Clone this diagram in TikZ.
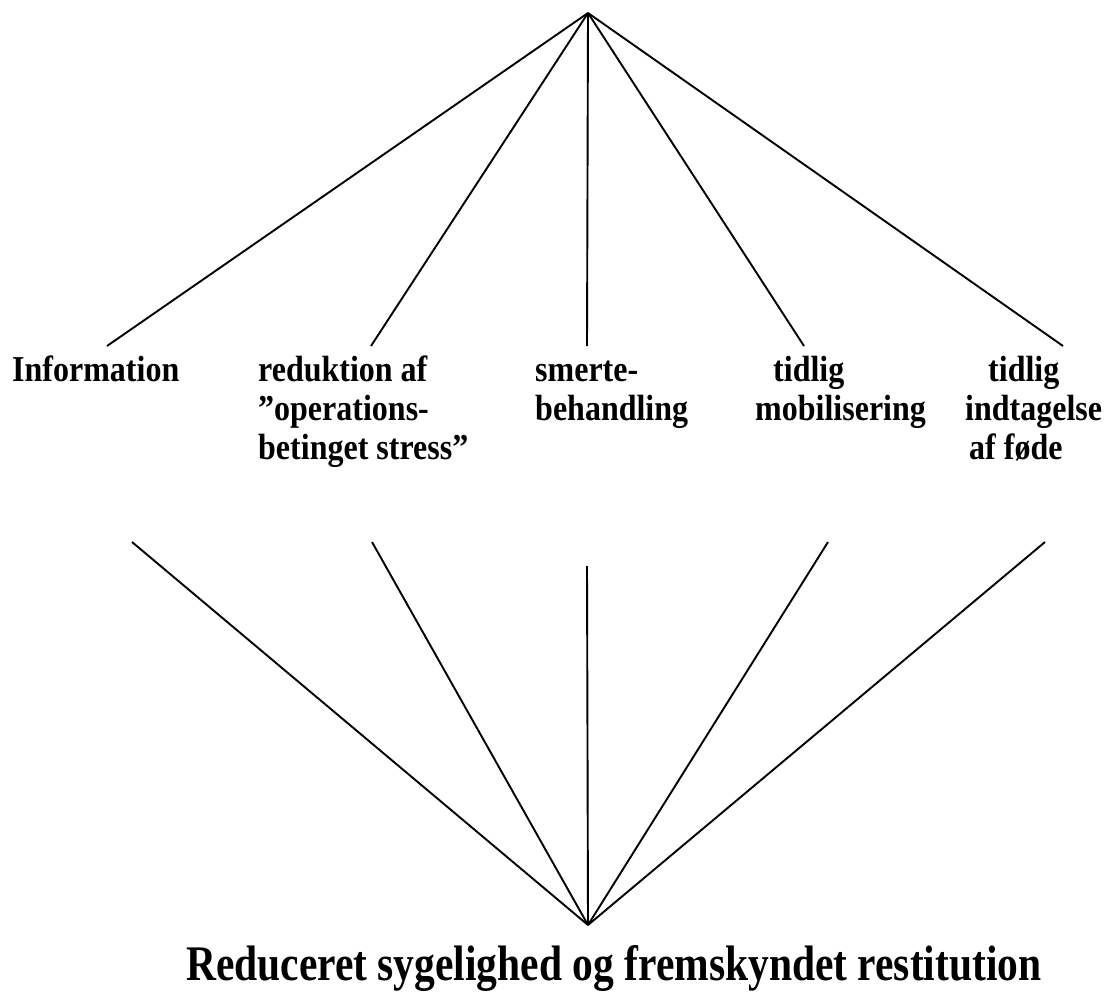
\documentclass[tikz,border=0pt]{standalone}
\usepackage{fontspec}
\usepackage{graphicx}
\setmainfont{Liberation Serif}
\tikzset{
  conn/.style={line width=1.9pt, black},
  lbl/.style={anchor=base west, inner sep=0pt, font=\fontsize{32}{34.5}\selectfont\bfseries},
  ttl/.style={anchor=base west, inner sep=0pt, font=\fontsize{41.5}{46}\selectfont\bfseries}
}
\newcommand{\lblbox}[1]{\scalebox{1}[1.14]{\begin{tabular}[t]{@{}l@{}}#1\end{tabular}}}
\begin{document}
\begin{tikzpicture}[x=1pt,y=-1pt]
\useasboundingbox[fill=white] (0,0) rectangle (1110,1001);
% apexes
\coordinate (top) at (588,13);
\coordinate (bot) at (588,925);
% upper line ends
\coordinate (u1) at (107,346);
\coordinate (u2) at (371,346);
\coordinate (u3) at (587,346);
\coordinate (u4) at (804,346);
\coordinate (u5) at (1063,346);
% lower line starts
\coordinate (d1) at (132,542);
\coordinate (d2) at (372,542);
\coordinate (d3) at (587,566);
\coordinate (d4) at (828,542);
\coordinate (d5) at (1045,542);
% labels
\node[lbl] (l1) at (12,381) {\lblbox{Information}};
\node[lbl] (l2) at (258,381) {\lblbox{reduktion af\\''operations-\\betinget stress''}};
\node[lbl] (l3) at (535,381) {\lblbox{smerte-\\behandling}};
\node[lbl] (l4) at (755,381) {\lblbox{\hspace{18pt}tidlig\\mobilisering}};
\node[lbl] (l5) at (965,381) {\lblbox{\hspace{23pt}tidlig\\indtagelse\\\hspace{4pt}af føde}};
\node[ttl] (t) at (186,980) {\scalebox{1}[1.2]{Reduceret sygelighed og fremskyndet restitution}};
% connectors
\foreach \i in {1,...,5} {
  \draw[conn] (top) -- (u\i);
  \draw[conn] (d\i) -- (bot);
}
\end{tikzpicture}
\end{document}
